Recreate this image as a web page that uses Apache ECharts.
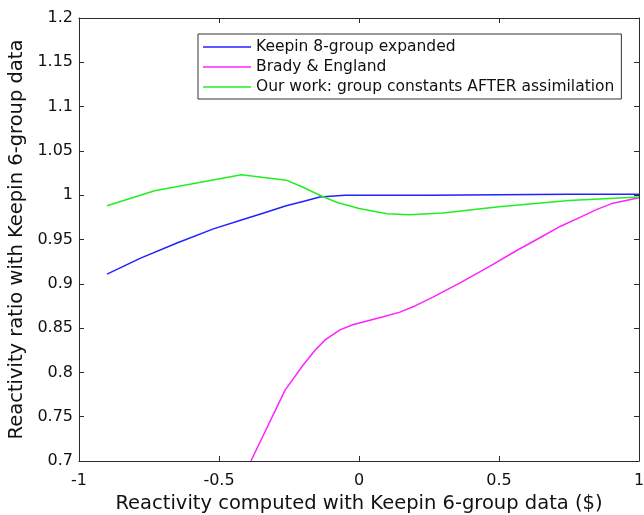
<!DOCTYPE html>
<html>
<head>
<meta charset="utf-8">
<script src="https://cdn.jsdelivr.net/npm/echarts@6/dist/echarts.min.js"></script>
<style>html,body{margin:0;padding:0;background:#fff;}#c{width:644px;height:515px;}</style>
</head>
<body>
<div id="c"></div>
<script>
const seriesNames = ['Keepin 8-group expanded', 'Brady & England', 'Our work: group constants AFTER assimilation'];
const blueX = [-0.9, -0.78, -0.65, -0.52, -0.42, -0.34, -0.26, -0.2, -0.14, -0.05, 0, 0.25, 0.5, 0.75, 1];
const blueY = [0.911, 0.929, 0.946, 0.962, 0.972, 0.980, 0.988, 0.993, 0.998, 1.0, 1.0, 1.0, 1.0005, 1.001, 1.001];
const magX = [-0.386, -0.264, -0.2, -0.157, -0.12, -0.068, -0.02, 0.029, 0.09, 0.146, 0.2, 0.264, 0.361, 0.468, 0.56, 0.646, 0.72, 0.789, 0.85, 0.907, 1];
const magY = [0.7, 0.780, 0.808, 0.825, 0.837, 0.848, 0.854, 0.858, 0.863, 0.868, 0.875, 0.885, 0.901, 0.920, 0.937, 0.952, 0.965, 0.975, 0.984, 0.991, 0.997];
const greenX = [-0.9, -0.73, -0.42, -0.26, -0.2, -0.14, -0.08, 0, 0.1, 0.18, 0.3, 0.5, 0.75, 1];
const greenY = [0.988, 1.005, 1.023, 1.017, 1.009, 1.0, 0.992, 0.985, 0.979, 0.978, 0.980, 0.987, 0.994, 0.998];
const xTitle = 'Reactivity computed with Keepin 6-group data ($)';
const yTitle = 'Reactivity ratio with Keepin 6-group data';

const zip = (xs, ys) => xs.map((x, i) => [x, ys[i]]);
const font = 'DejaVu Sans';
const axisCol = '#2b2b2b';
const cols = ['#2222ff', '#ff22ff', '#22ee22'];

const chart = echarts.init(document.getElementById('c'), null, {renderer: 'canvas'});
const baseX = {
  type: 'value', min: -1, max: 1, interval: 0.5,
  axisLine: {show: true, onZero: false, lineStyle: {color: axisCol, width: 1}},
  axisTick: {show: true, inside: true, length: 5, lineStyle: {color: axisCol}},
  splitLine: {show: false}
};
const baseY = {
  type: 'value', min: 0.7, max: 1.2, interval: 0.05,
  axisLine: {show: true, onZero: false, lineStyle: {color: axisCol, width: 1}},
  axisTick: {show: true, inside: true, length: 5, lineStyle: {color: axisCol}},
  splitLine: {show: false}
};
chart.setOption({
  animation: false,
  backgroundColor: '#fff',
  grid: {left: 79, right: 5, top: 18, bottom: 54, containLabel: false, outerBoundsMode: 'none'},
  xAxis: [
    Object.assign({}, baseX, {
      position: 'bottom',
      axisLabel: {show: true, color: '#111', fontFamily: font, fontSize: 16, margin: 12},
      name: xTitle, nameLocation: 'middle', nameGap: 33,
      nameTextStyle: {color: '#111', fontFamily: font, fontSize: 19.5}
    }),
    Object.assign({}, baseX, {position: 'top', axisLabel: {show: false}})
  ],
  yAxis: [
    Object.assign({}, baseY, {
      position: 'left',
      axisLabel: {show: true, color: '#111', fontFamily: font, fontSize: 16, margin: 6},
      name: yTitle, nameLocation: 'middle', nameGap: 51,
      nameTextStyle: {color: '#111', fontFamily: font, fontSize: 19.5}
    }),
    Object.assign({}, baseY, {position: 'right', axisLabel: {show: false}})
  ],
  legend: {
    orient: 'vertical', left: 198, top: 34,
    backgroundColor: '#fff', borderColor: '#333', borderWidth: 1,
    padding: [3, 7, 2, 5],
    icon: 'rect', itemWidth: 48, itemHeight: 1.5, itemGap: 0,
    textStyle: {fontFamily: font, fontSize: 15.5, color: '#111', lineHeight: 20},
    data: seriesNames
  },
  series: [
    {name: seriesNames[0], type: 'line', data: zip(blueX, blueY), symbol: 'none', lineStyle: {color: cols[0], width: 1.5}, itemStyle: {color: cols[0]}, clip: true},
    {name: seriesNames[1], type: 'line', data: zip(magX, magY), symbol: 'none', lineStyle: {color: cols[1], width: 1.5}, itemStyle: {color: cols[1]}, clip: true},
    {name: seriesNames[2], type: 'line', data: zip(greenX, greenY), symbol: 'none', lineStyle: {color: cols[2], width: 1.5}, itemStyle: {color: cols[2]}, clip: true}
  ]
});
</script>
</body>
</html>
